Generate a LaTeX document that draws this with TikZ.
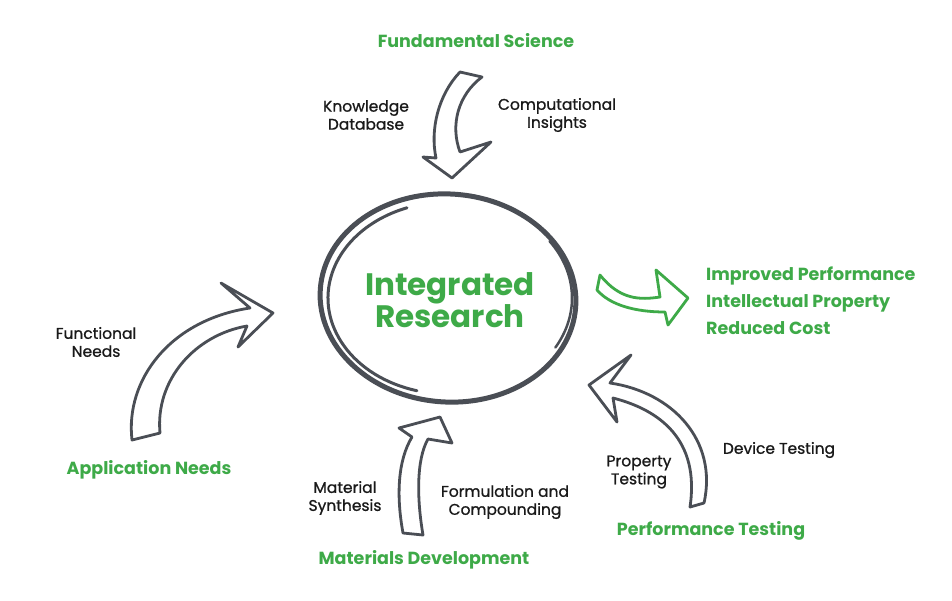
\documentclass[tikz,border=0pt]{standalone}
\usepackage{fontspec}
\setmainfont{Poppins}
\newfontfamily\medfont{Poppins}[FakeBold=0.9]
\definecolor{grn}{HTML}{3EAA48}
\definecolor{gry}{HTML}{4A4E55}
\begin{document}
\begin{tikzpicture}[x=1pt,y=-1pt,
  lbl/.style={font=\fontsize{15.5}{18}\medfont, text=black!90, align=center, inner sep=0pt},
  ttl/.style={font=\fontsize{17.5}{19}\bfseries, text=grn, inner sep=0pt},
  hollow/.style={draw=gry, fill=white, line width=2.8pt, line join=round},
  ghollow/.style={draw=grn, fill=white, line width=2.8pt, line join=round},
  ring/.style={draw=gry, line cap=round}]
\useasboundingbox[fill=white] (0,0) rectangle (952,600);

% central sketched ellipse
\draw[ring, line width=5pt, rotate around={-4:(448,298)}] (448,298) ellipse [x radius=128, y radius=104];
\draw[ring, line width=3pt] (448,298) ++(105:120 and 96) arc[start angle=105, end angle=250, x radius=120, y radius=96];
\draw[ring, line width=2.5pt] (448,298) ++(-35:124 and 99) arc[start angle=-35, end angle=30, x radius=124, y radius=99];
\draw[ring, line width=2.5pt] (448,298) ++(235:132 and 104) arc[start angle=235, end angle=262, x radius=132, y radius=104];

\node[font=\fontsize{31}{31}\bfseries, text=grn, align=center, inner sep=0pt] (ir) at (450,300) {Integrated\\Research};

% top arrow
\draw[hollow] (460,72) .. controls (438,95) and (430,130) .. (436,158) -- (423,157) -- (452,178) -- (491,142) -- (460,152) .. controls (450,125) and (458,95) .. (482,77) -- cycle;
% left arrow
\draw[hollow] (132,440) .. controls (125,380) and (170,320) .. (250,308) -- (221,283) -- (273,313) -- (238,347) -- (247,326) .. controls (195,335) and (155,380) .. (160,433) -- cycle;
% bottom arrow
\draw[hollow] (412,437) -- (399,428) -- (440,417) -- (452,443) -- (428,439) .. controls (416,460) and (417,500) .. (423,535) -- (403,533) .. controls (396,495) and (398,460) .. (412,437) -- cycle;
% bottom right arrow
\draw[hollow] (610,383) -- (631,355) -- (589,385) -- (617,422) -- (613,398) .. controls (660,410) and (700,440) .. (690,507) -- (704,503) .. controls (718,440) and (672,392) .. (610,383) -- cycle;
% green arrow
\draw[ghollow] (600,275) .. controls (620,300) and (640,300) .. (660,297) -- (656,270) -- (688,298) -- (668,325) -- (665,312) .. controls (635,312) and (610,305) .. (597,290) -- cycle;

% labels
\node[ttl] (fs) at (476,41) {Fundamental Science};
\node[lbl] (kd) at (366,115) {Knowledge\\Database};
\node[lbl] (ci) at (557,115) {Computational\\Insights};
\node[ttl, align=left, anchor=west, font=\fontsize{17.5}{27}\bfseries] (out) at (706,301) {Improved Performance\\Intellectual Property\\Reduced Cost};
\node[lbl] (fn) at (96,342) {Functional\\Needs};
\node[ttl] (an) at (149,470) {Application Needs};
\node[lbl] (ms) at (345,498) {Material\\Synthesis};
\node[lbl] (fc) at (505,502) {Formulation and\\Compounding};
\node[ttl] (md) at (424,560) {Materials Development};
\node[lbl] (pt) at (639,472) {Property\\Testing};
\node[lbl] (dt) at (779,450) {Device Testing};
\node[ttl] (ptest) at (711,531) {Performance Testing};
\end{tikzpicture}
\end{document}
